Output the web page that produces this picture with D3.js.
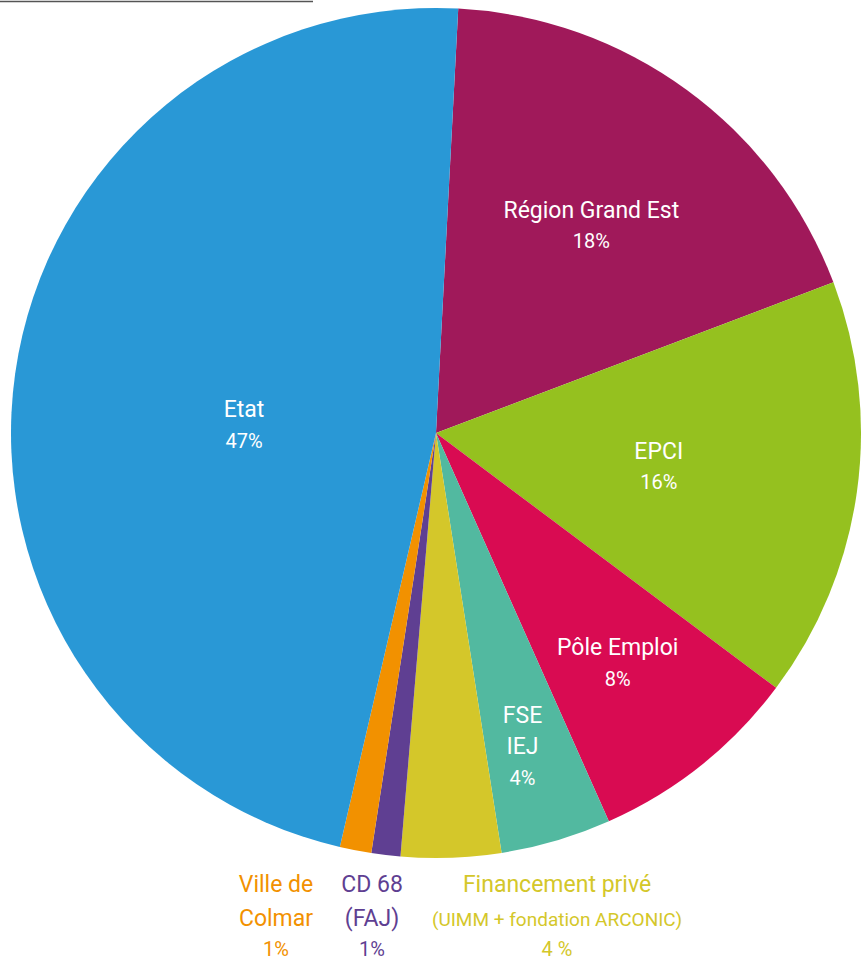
<!DOCTYPE html>
<meta charset="utf-8">
<title>Financement</title>
<script src="https://d3js.org/d3.v7.min.js"></script>
<style>
body { margin: 0; background: #fff; }
text { font-family: "Roboto", sans-serif; }
</style>
<body>
<div id="chart"></div>
<script>
// financeurs, in clockwise order from the top
var names = ["Région Grand Est", "EPCI", "Pôle Emploi", "FSE IEJ", "Financement privé", "CD 68", "Ville de Colmar", "Etat"];
var values = [18.4, 16.0, 8.1, 4.2, 3.8, 1.1, 1.2, 47.2];
var pctLabels = ["18%", "16%", "8%", "4%", "4 %", "1%", "1%", "47%"];
var colors = ["#a0195a", "#95c11f", "#d90b52", "#52b9a0", "#d4c72a", "#5f3f92", "#f29100", "#2998d6"];

var width = 862, height = 961;
var cx = 436, cy = 433, radius = 425;

var svg = d3.select("#chart").append("svg")
  .attr("width", width)
  .attr("height", height);

// little rule at the top left
svg.append("line")
  .attr("x1", 0).attr("x2", 313)
  .attr("y1", 1.5).attr("y2", 1.5)
  .attr("stroke", "#555").attr("stroke-width", 1.5);

var pie = d3.pie()
  .sort(null)
  .startAngle(3 * Math.PI / 180)
  .endAngle(3 * Math.PI / 180 + 2 * Math.PI);

var arcs = pie(values);

var arc = d3.arc().innerRadius(0).outerRadius(radius);

var g = svg.append("g")
  .attr("transform", "translate(" + cx + "," + cy + ")");

g.selectAll("path")
  .data(arcs)
  .enter()
  .append("path")
    .attr("d", arc)
    .attr("fill", function(d, i) { return colors[i]; });

// labels inside the slices: r = fraction of radius, shift = degrees off the slice middle
var inside = {
  "Région Grand Est": {r: 0.61, shift: 0.7, lines: ["Région Grand Est"]},
  "EPCI": {r: 0.53, shift: 0.5, lines: ["EPCI"]},
  "Pôle Emploi": {r: 0.69, shift: 0.3, lines: ["Pôle Emploi"]},
  "FSE IEJ": {r: 0.765, shift: 1, lines: ["FSE", "IEJ"]},
  "Etat": {r: 0.452, shift: -5.6, lines: ["Etat"]}
};

arcs.forEach(function(d, i) {
  var lab = inside[names[i]];
  if (!lab) return;
  var a = (d.startAngle + d.endAngle) / 2 + lab.shift * Math.PI / 180;
  var c = [Math.sin(a) * radius * lab.r, -Math.cos(a) * radius * lab.r];
  var n = lab.lines.length + 1;
  var step = 31.5;
  var top = c[1] - (n - 1) * step / 2;
  var t = g.append("text")
    .attr("text-anchor", "middle")
    .attr("fill", "#fff");
  lab.lines.forEach(function(l, k) {
    t.append("tspan")
      .attr("x", c[0]).attr("y", top + k * step + 8)
      .style("font-size", "23px")
      .text(l);
  });
  t.append("tspan")
    .attr("x", c[0]).attr("y", top + lab.lines.length * step + 7)
    .style("font-size", "20px")
    .text(pctLabels[i]);
});

// labels for the small slices, below the pie
var outside = [
  {name: "Ville de Colmar", x: 276, lines: ["Ville de", "Colmar"], sub: false},
  {name: "CD 68", x: 372, lines: ["CD 68", "(FAJ)"], sub: false},
  {name: "Financement privé", x: 557, lines: ["Financement privé", "(UIMM + fondation ARCONIC)"], sub: true}
];

outside.forEach(function(o) {
  var i = names.indexOf(o.name);
  var t = svg.append("text")
    .attr("text-anchor", "middle")
    .attr("fill", colors[i]);
  t.append("tspan").attr("x", o.x).attr("y", 892)
    .style("font-size", "23px").text(o.lines[0]);
  t.append("tspan").attr("x", o.x).attr("y", 926)
    .style("font-size", o.sub ? "19px" : "23px").text(o.lines[1]);
  t.append("tspan").attr("x", o.x).attr("y", 956)
    .style("font-size", "20px").text(pctLabels[i]);
});
</script>
</body>
